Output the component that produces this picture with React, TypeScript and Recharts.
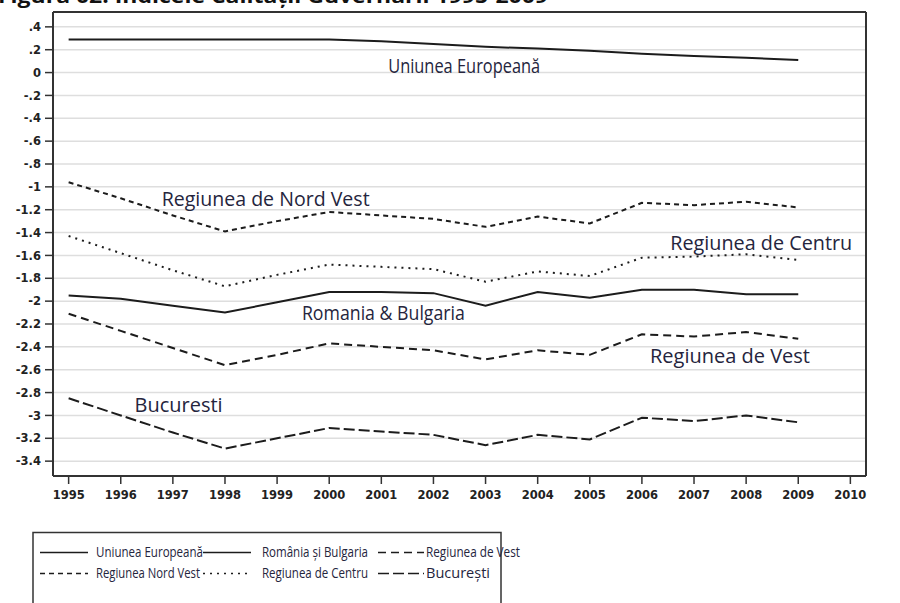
import React from 'react'
import { LineChart, Line, XAxis, YAxis, CartesianGrid, ReferenceDot } from 'recharts'

// Indicele Calitatii Guvernarii, 1995-2009
const years = [1995, 1996, 1997, 1998, 1999, 2000, 2001, 2002, 2003, 2004, 2005, 2006, 2007, 2008, 2009]

const euValues = [0.29, 0.29, 0.29, 0.29, 0.29, 0.29, 0.275, 0.25, 0.225, 0.21, 0.19, 0.165, 0.145, 0.13, 0.11]
const roBgValues = [-1.95, -1.98, -2.04, -2.1, -2.01, -1.92, -1.92, -1.93, -2.04, -1.92, -1.97, -1.9, -1.9, -1.94, -1.94]
const nordVestValues = [-0.96, -1.1, -1.25, -1.39, -1.3, -1.22, -1.25, -1.28, -1.35, -1.26, -1.32, -1.14, -1.16, -1.13, -1.18]
const centruValues = [-1.43, -1.58, -1.73, -1.87, -1.77, -1.68, -1.7, -1.72, -1.83, -1.74, -1.78, -1.62, -1.61, -1.59, -1.64]
const vestValues = [-2.11, -2.26, -2.41, -2.56, -2.47, -2.37, -2.4, -2.43, -2.51, -2.43, -2.47, -2.29, -2.31, -2.27, -2.33]
const bucurestiValues = [-2.85, -3.0, -3.15, -3.29, -3.2, -3.11, -3.14, -3.17, -3.26, -3.17, -3.21, -3.02, -3.05, -3.0, -3.06]

const xTicks = [1995, 1996, 1997, 1998, 1999, 2000, 2001, 2002, 2003, 2004, 2005, 2006, 2007, 2008, 2009, 2010]
const yTicks = [0.4, 0.2, 0, -0.2, -0.4, -0.6, -0.8, -1, -1.2, -1.4, -1.6, -1.8, -2, -2.2, -2.4, -2.6, -2.8, -3, -3.2, -3.4]

const title = 'Figura 02. Indicele Calității Guvernării 1995-2009'

const data = years.map((year, i) => ({
  year,
  eu: euValues[i],
  roBg: roBgValues[i],
  nordVest: nordVestValues[i],
  centru: centruValues[i],
  vest: vestValues[i],
  bucuresti: bucurestiValues[i],
}))

const ink = '#1c1c1c'
const textInk = '#25253d'
const frame = '#333333'
const grid = '#dedede'

// in-plot labels sit at data coordinates, width is forced to match the reference
const series = [
  { key: 'eu', legend: 'Uniunea Europeană', dash: undefined, label: 'Uniunea Europeană', lx: 2002.59, ly: 0.06, lw: 152 },
  { key: 'roBg', legend: 'România și Bulgaria', dash: undefined, label: 'Romania & Bulgaria', lx: 2001.04, ly: -2.1, lw: 163 },
  { key: 'vest', legend: 'Regiunea de Vest', dash: '8 5', label: 'Regiunea de Vest', lx: 2007.69, ly: -2.48, lw: 160 },
  { key: 'nordVest', legend: 'Regiunea Nord Vest', dash: '5 4', label: 'Regiunea de Nord Vest', lx: 1998.78, ly: -1.11, lw: 208 },
  { key: 'centru', legend: 'Regiunea de Centru', dash: '2 5', label: 'Regiunea de Centru', lx: 2008.29, ly: -1.49, lw: 182 },
  { key: 'bucuresti', legend: 'București', dash: '11 4', label: 'Bucuresti', lx: 1997.11, ly: -2.91, lw: 88 },
]

// legend layout: 3 columns x 2 rows
const legendCols = [
  { sx: 40, sw: 48, tx: 96 },
  { sx: 203, sw: 48, tx: 262 },
  { sx: 378, sw: 46, tx: 426 },
]
const legendRows = [{ ly: 552.5, ty: 556.5 }, { ly: 573.5, ty: 577.5 }]
const legendTextWidths = [107, 106, 94, 104, 106, 64]

const fmtY = (v: number) => {
  if (v === 0) return '0'
  const s = String(Math.round(v * 10) / 10)
  return s.replace('0.', '.')
}

const PlotLabel = (props: any) => {
  const { viewBox, text, width } = props
  if (!viewBox) return null
  const cx = viewBox.x + viewBox.width / 2
  const cy = viewBox.y + viewBox.height / 2
  return (
    <text
      x={cx - width / 2}
      y={cy + 7}
      textLength={width}
      lengthAdjust="spacingAndGlyphs"
      fill={textInk}
      fontFamily="'Open Sans', sans-serif"
      fontSize={20}
    >
      {text}
    </text>
  )
}

const tickFont = { fill: '#222', fontSize: 11.5, fontWeight: 'bold', fontFamily: 'DejaVu Sans' }

export default function App() {
  return (
    <div style={{ position: 'absolute', left: 0, top: 0, width: 900, height: 603, background: '#fff', overflow: 'hidden' }}>
      <LineChart width={900} height={603} data={data} margin={{ top: 11, right: 33, bottom: 0, left: 0 }}>
        <CartesianGrid xAxisId="b" yAxisId="l" horizontal vertical={false} stroke={grid} strokeWidth={1.5} />
        <XAxis
          xAxisId="b"
          dataKey="year"
          type="number"
          domain={[1994.7, 2010.3]}
          ticks={xTicks}
          height={127}
          axisLine={{ stroke: frame, strokeWidth: 2 }}
          tickLine={{ stroke: frame, strokeWidth: 1.5 }}
          tickSize={8}
          tickMargin={7}
          tick={tickFont}
        />
        <XAxis
          xAxisId="t"
          dataKey="year"
          type="number"
          orientation="top"
          domain={[1994.7, 2010.3]}
          height={1}
          tick={false}
          tickLine={false}
          axisLine={{ stroke: frame, strokeWidth: 2 }}
        />
        <YAxis
          yAxisId="l"
          type="number"
          domain={[-3.53, 0.53]}
          ticks={yTicks}
          width={53}
          interval={0}
          axisLine={{ stroke: frame, strokeWidth: 2 }}
          tickLine={{ stroke: frame, strokeWidth: 1.5 }}
          tickSize={8}
          tickMargin={4}
          tickFormatter={fmtY}
          tick={tickFont}
        />
        <YAxis
          yAxisId="r"
          orientation="right"
          type="number"
          domain={[-3.53, 0.53]}
          width={1}
          tick={false}
          tickLine={false}
          axisLine={{ stroke: frame, strokeWidth: 2 }}
        />
        {series.map((s) => (
          <Line
            key={s.key}
            xAxisId="b"
            yAxisId="l"
            type="linear"
            dataKey={s.key}
            name={s.legend}
            stroke={ink}
            strokeWidth={2}
            strokeDasharray={s.dash}
            dot={false}
            activeDot={false}
            isAnimationActive={false}
          />
        ))}
        {series.map((s) => (
          <ReferenceDot
            key={'lbl-' + s.key}
            xAxisId="b"
            yAxisId="l"
            x={s.lx}
            y={s.ly}
            r={1}
            fill="none"
            stroke="none"
            label={{ content: <PlotLabel text={s.label} width={s.lw} /> }}
          />
        ))}
      </LineChart>

      {/* title, mostly cut off by the top edge as in the source figure */}
      <svg width={900} height={603} style={{ position: 'absolute', left: 0, top: 0, pointerEvents: 'none' }}>
        <text
          x={-2}
          y={3}
          textLength={550}
          lengthAdjust="spacingAndGlyphs"
          fontFamily="'Open Sans', sans-serif"
          fontWeight="bold"
          fontSize={19}
          fill="#111"
        >
          {title}
        </text>

        {/* legend box */}
        <rect x={33} y={532.5} width={468} height={90} fill="none" stroke={frame} strokeWidth={1.5} />
        {series.map((s, i) => {
          const col = legendCols[i % 3]
          const row = legendRows[Math.floor(i / 3)]
          return (
            <g key={'leg-' + s.key}>
              <line
                x1={col.sx}
                x2={col.sx + col.sw}
                y1={row.ly}
                y2={row.ly}
                stroke={ink}
                strokeWidth={1.6}
                strokeDasharray={s.dash}
              />
              <text
                x={col.tx}
                y={row.ty}
                textLength={legendTextWidths[i]}
                lengthAdjust="spacingAndGlyphs"
                fontFamily="'Open Sans', sans-serif"
                fontSize={15}
                fill={textInk}
              >
                {s.legend}
              </text>
            </g>
          )
        })}
      </svg>
    </div>
  )
}
